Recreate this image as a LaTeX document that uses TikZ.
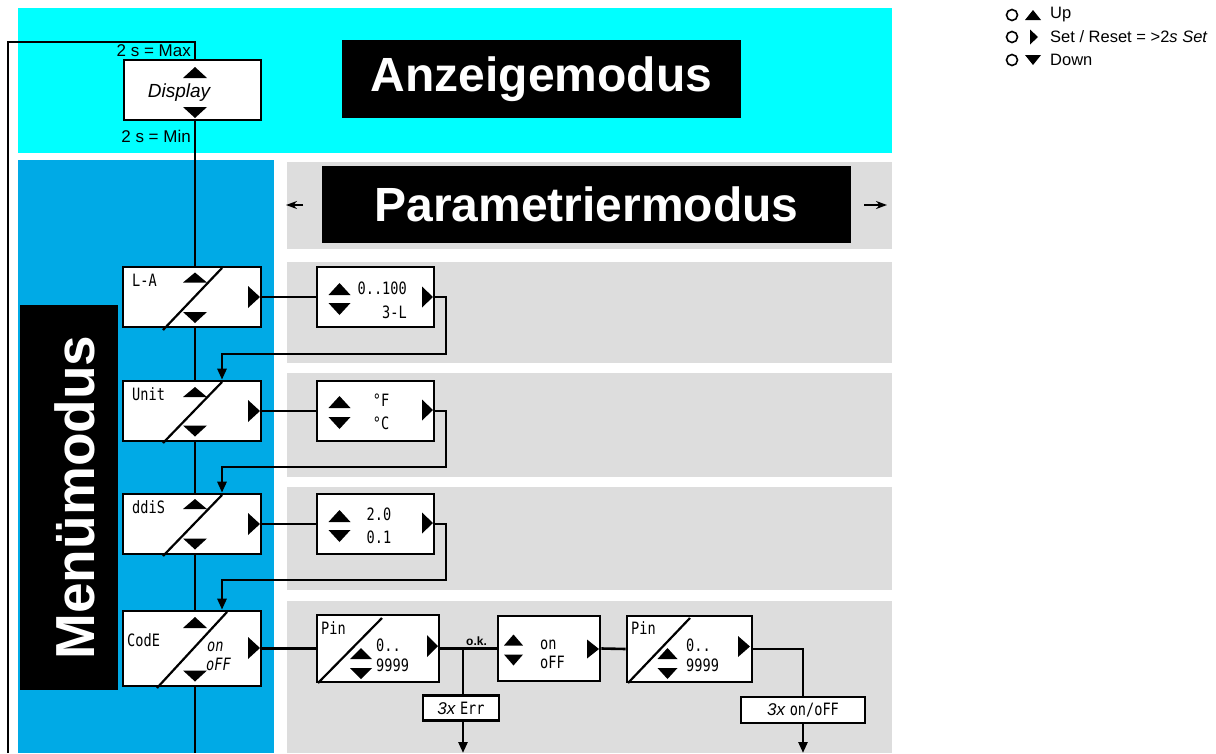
\documentclass[tikz,border=0pt]{standalone}
\usepackage{fontspec}
\setmainfont{Liberation Sans}
\newfontfamily\lcd[FakeStretch=0.8]{DejaVu Sans Mono}
\usetikzlibrary{arrows.meta}
\definecolor{cyanbg}{RGB}{0,255,255}
\definecolor{bluebg}{RGB}{0,170,230}
\definecolor{graybg}{RGB}{221,221,221}
\newcommand\myfs[1]{\fontsize{#1}{#1}\selectfont}
% x y halfwidth height
\newcommand\mytriup[4]{\fill ({#1-#3},{#2+#4/2}) -- ({#1+#3},{#2+#4/2}) -- (#1,{#2-#4/2}) -- cycle;}
\newcommand\mytridn[4]{\fill ({#1-#3},{#2-#4/2}) -- ({#1+#3},{#2-#4/2}) -- (#1,{#2+#4/2}) -- cycle;}
% xtip y width height
\newcommand\mytrirt[4]{\fill ({#1-#3},{#2-#4/2}) -- (#1,#2) -- ({#1-#3},{#2+#4/2}) -- cycle;}
\tikzset{
  box/.style={draw, line width=2.6pt, fill=white, inner sep=0pt, rectangle},
  conn/.style={line width=2.6pt},
  arr/.style={conn, -{Triangle[length=11pt,width=9pt]}},
  title/.style={fill=black, text=white, font=\bfseries\myfs{48}, inner sep=0pt},
  lcdtxt/.style={font=\lcd\myfs{17}, inner sep=0pt},
  lcdit/.style={font=\lcd\itshape\myfs{17}, inner sep=0pt},
  diag/.style={line width=2.2pt},
  legtxt/.style={font=\myfs{16.5}, anchor=west, inner sep=0pt},
  legcirc/.style={circle, draw, line width=1.6pt, minimum size=11pt, inner sep=0pt}
}
\begin{document}
\begin{tikzpicture}[x=1pt,y=-1pt]
\useasboundingbox (0,0) rectangle (1216,753);
% backgrounds
\fill[cyanbg] (18,8) rectangle (892,153);
\fill[bluebg] (18,160) rectangle (274,753);
\fill[graybg] (287,162) rectangle (892,249);
\fill[graybg] (287,262) rectangle (892,363);
\fill[graybg] (287,373) rectangle (892,477);
\fill[graybg] (287,487) rectangle (892,590);
\fill[graybg] (287,601) rectangle (892,753);

% titles
\node[title, minimum width=399pt, minimum height=78pt] (anz) at (541.5,79) {Anzeigemodus};
\node[title, minimum width=529pt, minimum height=77pt] (par) at (586.5,204.5) {Parametriermodus};
\node[fill=black, minimum width=98pt, minimum height=385pt, inner sep=0pt] (men) at (69,497.5) {};
\node[text=white, font=\bfseries\myfs{55}, inner sep=0pt, rotate=90] (mentxt) at (75,497.5) {Menümodus};
\coordinate (pla) at (303,205); \coordinate (plb) at (286,205);
\coordinate (pra) at (864,205); \coordinate (prb) at (887,205);
\draw[line width=2pt, -{Stealth[length=11pt,width=8pt]}] (pla) -- (plb);
\draw[line width=2pt, -{Stealth[length=11pt,width=8pt]}] (pra) -- (prb);

% coordinates of the main line
\coordinate (mx) at (195,0);
\coordinate (mtop) at (195,42);
\coordinate (ltop) at (8,42);
\coordinate (lbot) at (8,753);
\coordinate (mbot) at (195,753);
\coordinate (dx) at (222,0);

% display box
\node[box, minimum width=137pt, minimum height=60pt] (disp) at (192.5,90) {};
\node[font=\itshape\myfs{19}, inner sep=0pt] at (179,93) {Display};
\mytriup{195}{72.5}{12}{11}
\mytridn{195}{112.5}{12}{11}
\node[font=\myfs{17}, anchor=east, inner sep=0pt] at (191,51) {2 s = Max};
\node[font=\myfs{17}, anchor=east, inner sep=0pt] at (191,136) {2 s = Min};

% menu boxes
\node[box, minimum width=138pt, minimum height=60pt] (la) at (192,297) {};
\node[box, minimum width=138pt, minimum height=60pt] (un) at (192,411) {};
\node[box, minimum width=138pt, minimum height=60pt] (dd) at (192,524) {};
\node[box, minimum width=138pt, minimum height=75pt] (co) at (192,648.5) {};

% main line
\draw[conn] (lbot) -- (ltop) -- (mtop) -- (mx |- disp.north);
\draw[conn] (mx |- disp.south) -- (mx |- la.north);
\draw[conn] (mx |- la.south) -- (mx |- un.north);
\draw[conn] (mx |- un.south) -- (mx |- dd.north);
\draw[conn] (mx |- dd.south) -- (mx |- co.north);
\draw[conn] (mx |- co.south) -- (mbot);

% L-A
\draw[diag] (163,330) -- (222,268);
\node[lcdtxt, anchor=west] at (132,280) {L-A};
\mytriup{195}{277.5}{12}{10}
\mytridn{195}{317.5}{12}{11}
\mytrirt{260}{297}{12}{22}
% Unit
\draw[diag] (163,443) -- (222,382);
\node[lcdtxt, anchor=west] at (132,394) {Unit};
\mytriup{195}{392}{12}{10}
\mytridn{195}{431}{12}{11}
\mytrirt{260}{411}{12}{22}
% ddiS
\draw[diag] (163,556) -- (222,495);
\node[lcdtxt, anchor=west] at (132,507) {ddiS};
\mytriup{195}{504}{12}{10}
\mytridn{195}{544}{12}{11}
\mytrirt{260}{524}{12}{22}
% CodE
\draw[diag] (157,688) -- (227,612);
\node[lcdtxt, anchor=west] at (127,640) {CodE};
\node[lcdit, anchor=west] at (207,647) {on};
\node[lcdit, anchor=west] at (206,664) {oFF};
\mytriup{195}{622.5}{12}{11}
\mytridn{195}{676}{12}{11}
\mytrirt{260}{648}{12}{22}

% parameter boxes
\node[box, minimum width=117pt, minimum height=60pt] (lap) at (375.5,297) {};
\node[box, minimum width=117pt, minimum height=60pt] (unp) at (375.5,411) {};
\node[box, minimum width=117pt, minimum height=60pt] (ddp) at (375.5,524) {};
\draw[conn] (la.east) -- (lap.west);
\draw[conn] (un.east) -- (unp.west);
\draw[conn] (dd.east) -- (ddp.west);

\mytriup{339.5}{289}{11}{12}
\mytridn{339.5}{309}{11}{12}
\mytrirt{433}{297}{11}{21}
\node[lcdtxt, anchor=east] at (407,288) {0..100};
\node[lcdtxt, anchor=east] at (407,312) {3-L};

\mytriup{339.5}{402}{11}{12}
\mytridn{339.5}{423}{11}{12}
\mytrirt{433}{410}{11}{21}
\node[lcdtxt] at (381,400) {°F};
\node[lcdtxt] at (381,423) {°C};

\mytriup{339.5}{516}{11}{12}
\mytridn{339.5}{536}{11}{12}
\mytrirt{433}{523}{11}{21}
\node[lcdtxt] at (379,514) {2.0};
\node[lcdtxt] at (379,537) {0.1};

% return lines
\coordinate (r1) at (446,354);
\coordinate (r2) at (446,467);
\coordinate (r3) at (446,580);
\draw[arr] (lap.east) -| (r1) -| (dx |- un.north);
\draw[arr] (unp.east) -| (r2) -| (dx |- dd.north);
\draw[arr] (ddp.east) -| (r3) -| (dx |- co.north);

% CodE row
\node[box, minimum width=122pt, minimum height=67pt] (p1) at (378,648.5) {};
\node[box, minimum width=102pt, minimum height=65pt] (oo) at (549,648.5) {};
\node[box, minimum width=125pt, minimum height=66pt] (p2) at (689.5,649) {};
\node[box, minimum width=76pt, minimum height=25pt] (err) at (461,708) {};
\node[box, minimum width=124pt, minimum height=26pt] (oof) at (803,710) {};
\coordinate (ok) at (463,648.5);
\coordinate (errb) at (463,753);
\coordinate (oofb) at (803,753);

\draw[conn] (co.east) -- (p1.west);
\draw[conn] (p1.east) -- (oo.west);
\draw[conn] (oo.east) -- (p2.west);
\draw[conn] (ok) -- (ok |- err.north);
\draw[arr] (ok |- err.south) -- (errb);
\draw[conn] (p2.east) -| (oof.north);
\draw[arr] (oof.south) -- (oofb);
\node[font=\bfseries\myfs{12}, anchor=south west, inner sep=0pt] at (466,646) {o.k.};

% Pin 1
\draw[diag] (318,683) -- (382,618);
\node[lcdtxt, anchor=west] at (321,628) {Pin};
\mytriup{361}{653.5}{11}{11}
\mytridn{361}{673.5}{11}{11}
\mytrirt{438}{646}{11}{22}
\node[lcdtxt, anchor=west] at (376,645) {0..};
\node[lcdtxt, anchor=west] at (376,665) {9999};
% on/off
\mytriup{513.5}{640}{9.5}{11}
\mytridn{513.5}{660}{9.5}{11}
\mytrirt{599}{649}{12}{19}
\node[lcdtxt, anchor=west] at (540,645) {on};
\node[lcdtxt, anchor=west] at (540,662) {oFF};
% Pin 2
\draw[diag] (628,683) -- (690,618);
\node[lcdtxt, anchor=west] at (631,628) {Pin};
\mytriup{667.5}{653.5}{10}{11}
\mytridn{667.5}{673.5}{10}{11}
\mytrirt{750}{646.5}{12}{21}
\node[lcdtxt, anchor=west] at (686,645) {0..};
\node[lcdtxt, anchor=west] at (686,665) {9999};
% error boxes text
\node[inner sep=0pt] at (err.center) {\itshape\myfs{17}3x \lcd\upshape Err};
\node[inner sep=0pt] at (oof.center) {\itshape\myfs{17}3x \lcd\upshape on/oFF};

% legend
\node[legcirc] (c1) at (1012,15) {};
\node[legcirc] (c2) at (1012,37) {};
\node[legcirc] (c3) at (1012,60) {};
\mytriup{1033}{15}{8}{10}
\mytrirt{1038}{37}{8}{15}
\mytridn{1033}{60}{8}{10}
\node[legtxt] at (1050,15) {Up};
\node[legtxt] at (1050,37) {Set / Reset = >2\textit{s Set}};
\node[legtxt] at (1050,60) {Down};
\end{tikzpicture}
\end{document}
